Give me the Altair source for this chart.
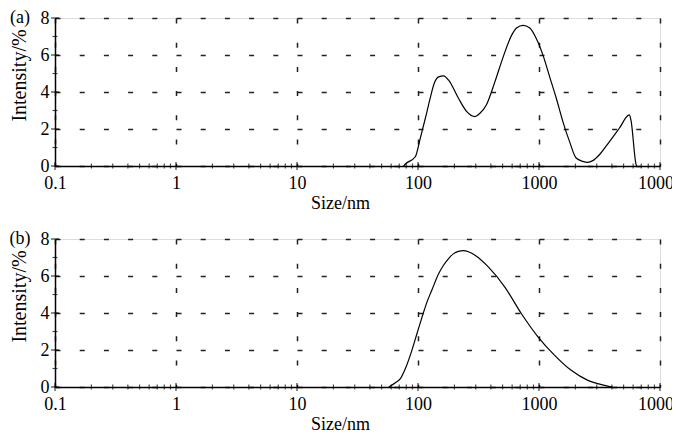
import altair as alt
import pandas as pd

# ---- data ----
size_a = [76, 79, 95, 104.5, 115, 126, 136, 148, 162.5, 179, 216, 253, 296, 325, 367,
          432, 506, 593, 652, 738, 839, 952, 1080, 1225, 1390, 1575, 1786, 2027, 2300,
          2530, 2780, 3157, 3810, 4610, 5575, 5750, 6324, 6400]
int_a = [0.0, 0.12, 0.5, 1.51, 2.58, 3.66, 4.46, 4.82, 4.87, 4.64, 3.66, 2.94, 2.67, 2.85, 3.30,
         4.55, 5.90, 7.06, 7.46, 7.60, 7.46, 6.88, 5.98, 4.82, 3.66, 2.40, 1.33, 0.43, 0.25,
         0.20, 0.29, 0.61, 1.31, 2.04, 2.76, 2.49, 0.12, 0.0]

size_b = [57.4, 65, 71.5, 79.6, 89, 98, 108, 118.6, 130, 148, 162.5, 179, 197, 216, 238,
          261, 296, 381, 522, 716, 984, 1347, 1846, 2535, 3063, 3700, 4060]
int_b = [0.0, 0.23, 0.45, 1.08, 1.98, 2.88, 3.78, 4.59, 5.23, 6.12, 6.58, 6.94, 7.21, 7.33, 7.37,
         7.31, 7.12, 6.49, 5.40, 3.96, 2.70, 1.71, 0.90, 0.36, 0.18, 0.05, 0.0]

x_major = [0.1, 1, 10, 100, 1000, 10000]
x_decades = [0.1, 1, 10, 100, 1000]
x_minor_mult = [2, 3, 4, 5, 6, 7, 8, 9]
x_minor = [d * m for d in x_decades for m in x_minor_mult]
y_major = [0, 2, 4, 6, 8]
y_minor = [1, 3, 5, 7]

FONT = "Liberation Serif, Times New Roman, serif"
W, H = 605, 148

xs = alt.Scale(type="log", domain=[0.1, 10000], nice=False)
ys = alt.Scale(domain=[0, 8], nice=False)

x_axis = alt.Axis(values=x_major, format="~g", title="Size/nm", grid=True,
                  gridDash=[5, 19.2], gridColor="#222", gridWidth=1.5, gridOpacity=1,
                  ticks=False, domainColor="black", domainWidth=1.5,
                  labelPadding=22.5, labelBaseline="alphabetic", labelFontSize=18,
                  labelFont=FONT, labelColor="black", labelFlush=False,
                  titleFont=FONT, titleFontSize=18, titleFontWeight="normal",
                  titleColor="black", titleX=285, titleY=42, titleAlign="center",
                  titleBaseline="alphabetic")
y_axis = alt.Axis(values=y_major, title="Intensity/%", grid=True,
                  gridDash=[5, 19.2], gridColor="#222", gridWidth=1.5, gridOpacity=1,
                  ticks=False, domainColor="black", domainWidth=1.5,
                  labelPadding=6, labelBaseline="middle", labelFontSize=18,
                  labelFont=FONT, labelColor="black", labelFlush=False,
                  titleFont=FONT, titleFontSize=20, titleFontWeight="normal",
                  titleColor="black", titleX=-36, titleY=57, titleAngle=-90,
                  titleAlign="center", titleBaseline="middle")


def enc_x():
    return alt.X("size:Q", scale=xs, axis=x_axis)


def enc_y():
    return alt.Y("intensity:Q", scale=ys, axis=y_axis)


def panel(sizes, vals, tag):
    df = pd.DataFrame({"size": sizes, "intensity": vals})
    line = alt.Chart(df).mark_line(color="black", strokeWidth=1.2,
                                   interpolate="monotone").encode(x=enc_x(), y=enc_y())
    xt_major = alt.Chart(pd.DataFrame({"size": x_major, "intensity": [0] * len(x_major)})).mark_tick(
        orient="vertical", size=8, thickness=1.3, color="black").encode(x=enc_x(), y=enc_y())
    xt_minor = alt.Chart(pd.DataFrame({"size": x_minor, "intensity": [0] * len(x_minor)})).mark_tick(
        orient="vertical", size=5, thickness=1.2, color="black").encode(x=enc_x(), y=enc_y())
    yt_major = alt.Chart(pd.DataFrame({"size": [0.1] * len(y_major), "intensity": y_major})).mark_tick(
        orient="horizontal", size=8, thickness=1.3, color="black").encode(x=enc_x(), y=enc_y())
    yt_minor = alt.Chart(pd.DataFrame({"size": [0.1] * len(y_minor), "intensity": y_minor})).mark_tick(
        orient="horizontal", size=5, thickness=1.2, color="black").encode(x=enc_x(), y=enc_y())
    label = alt.Chart(pd.DataFrame({"t": [tag]})).mark_text(
        font=FONT, fontSize=18, align="center", baseline="middle", color="black").encode(
        text="t:N", x=alt.value(-35), y=alt.value(0))
    return alt.layer(line, xt_major, xt_minor, yt_major, yt_minor, label).properties(width=W, height=H)


chart = alt.vconcat(panel(size_a, int_a, "(a)"), panel(size_b, int_b, "(b)"),
                    spacing=73, bounds="flush").properties(
    padding={"left": 0, "top": 0, "right": -11, "bottom": -2}
).configure_view(stroke=None).configure(background="white", font=FONT)

chart.save("out.html", embed_options={"renderer": "svg", "actions": False})
